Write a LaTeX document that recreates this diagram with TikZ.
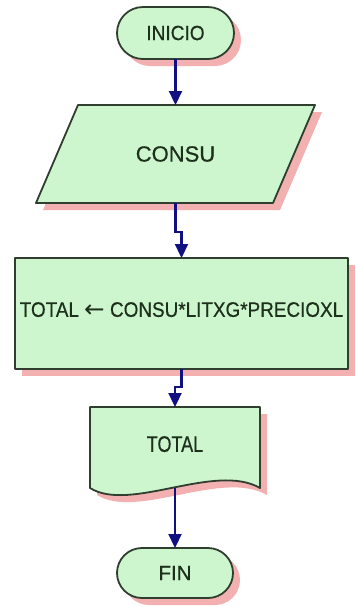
\documentclass[tikz,border=0pt]{standalone}
\usepackage{fontspec}
\setmainfont[AutoFakeBold=0.6]{Liberation Sans}
\newfontfamily\symfont{DejaVu Sans}
\usetikzlibrary{arrows.meta,calc}
\pgfdeclarelayer{bg}
\pgfsetlayers{bg,main}
\definecolor{boxfill}{RGB}{206,246,206}
\definecolor{boxline}{RGB}{48,62,48}
\definecolor{shade}{RGB}{242,176,176}
\definecolor{flowline}{RGB}{16,16,128}
\definecolor{ink}{RGB}{28,48,28}

\newcommand\sized[3]{{\fontsize{#1}{#1}\selectfont\scalebox{#2}[1]{#3}}}

\begin{document}
\begin{tikzpicture}[x=1pt,y=-1pt,
  lbl/.style={inner sep=0pt, outer sep=0pt, text=ink, font=\bfseries},
  outline/.style={fill=boxfill, draw=boxline, line width=1.8pt, line join=round,
    preaction={fill=shade, transform canvas={xshift=7pt,yshift=-7pt}}},
  flow/.style={draw=flowline, line width=2.2pt,
    -{Triangle[length=14pt,width=13pt]}},
]
\useasboundingbox (0,0) rectangle (356,606);

% text nodes, sized to the outlines drawn around them
\node[lbl, minimum width=117pt, minimum height=52pt]
  (ini) at (175.5,33) {\sized{20.5}{0.93}{INICIO}};
\node[lbl, minimum width=279pt, minimum height=98pt]
  (consu) at (175.5,154) {\sized{22}{1}{CONSU}};
\node[lbl, minimum width=333pt, minimum height=111pt]
  (proc) at (181.5,313.5)
  {\raisebox{8pt}{\sized{21}{0.9}{TOTAL
    \raisebox{-1pt}{\scalebox{1.3}[1.15]{\symfont\mdseries ←}}
    CONSU*LITXG*PRECIOXL}}};
\node[lbl, minimum width=170pt, minimum height=81pt]
  (doc) at (175,447.5) {\raisebox{7pt}{\sized{22.5}{0.8}{TOTAL}}};
\node[lbl, minimum width=116pt, minimum height=50pt]
  (fin) at (175,573) {\sized{20.5}{1}{FIN}};

% outlines and their shadows
\begin{pgfonlayer}{bg}
  \path[outline, rounded corners=26pt] (ini.south west) rectangle (ini.north east);
  \path[outline] (consu.south west) -- ($(consu.south east)+(-42,0)$)
    -- (consu.north east) -- ($(consu.north west)+(42,0)$) -- cycle;
  \path[outline] (proc.south west) rectangle (proc.north east);
  \path[outline] (doc.north west) -- (doc.north east) -- (doc.south east)
    .. controls ($(doc.south east)+(-45,-26)$) and ($(doc.south west)+(40,25)$)
    .. (doc.south west) -- cycle;
  \path[outline, rounded corners=25pt] (fin.south west) rectangle (fin.north east);
\end{pgfonlayer}

% flow connectors
\draw[flow] (ini.south) -- (consu.north);
\draw[flow] (consu.south) -- ++(0,29) -| (proc.north);
\draw[flow] (proc.south) -- ++(0,18) -| (doc.north);
\draw[flow] (doc.south) -- (fin.north);
\end{tikzpicture}
\end{document}
